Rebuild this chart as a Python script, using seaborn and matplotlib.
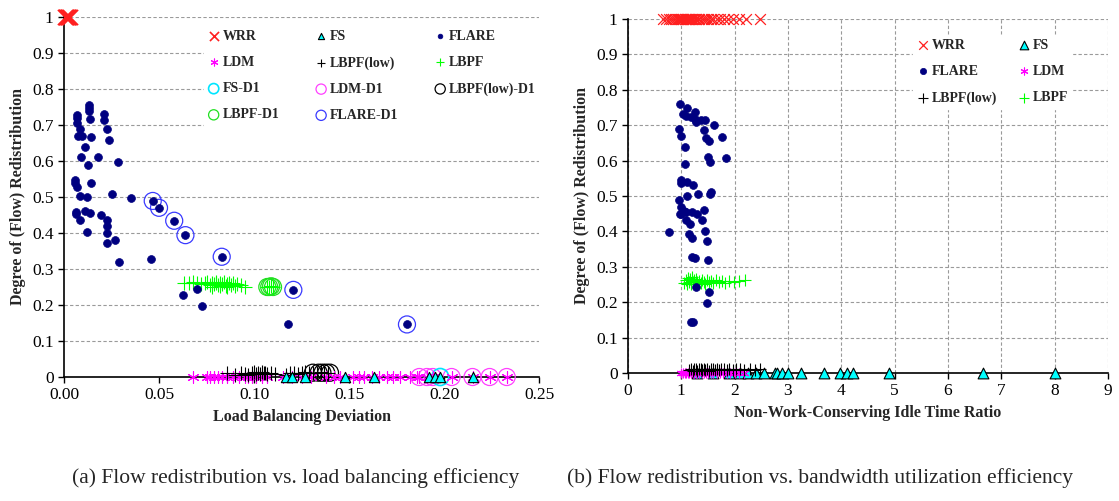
import numpy as np
import pandas as pd
import matplotlib
matplotlib.use('Agg')
import matplotlib.pyplot as plt
import seaborn as sns
from matplotlib.ticker import FuncFormatter

# ---------------- (a) load balancing deviation ----------------
a_wrr_x = [0.0005, 0.001, 0.0015, 0.002, 0.0025, 0.003, 0.0012, 0.0022]
a_wrr_y = [1, 1, 1, 1, 1, 1, 1, 1]

a_flare_x = [0.013, 0.013, 0.013, 0.007, 0.007, 0.007, 0.0137, 0.021, 0.021, 0.0225,
             0.0084, 0.0075, 0.0097, 0.0143, 0.0236, 0.0108, 0.009, 0.0179, 0.0128, 0.0284,
             0.0056, 0.0059, 0.0066, 0.0142, 0.0084, 0.012, 0.0253, 0.035, 0.0063, 0.0065,
             0.0108, 0.0135, 0.0084, 0.012, 0.0195, 0.0225, 0.0225, 0.0225, 0.0226, 0.0268,
             0.0289, 0.0456, 0.0626, 0.070, 0.0726, 0.118,
             0.0467, 0.050, 0.058, 0.0639, 0.083, 0.1207, 0.1805]
a_flare_y = [0.756, 0.747, 0.740, 0.728, 0.720, 0.705, 0.716, 0.730, 0.713, 0.688,
             0.690, 0.670, 0.670, 0.666, 0.657, 0.638, 0.610, 0.611, 0.590, 0.597,
             0.547, 0.538, 0.527, 0.540, 0.502, 0.500, 0.508, 0.497, 0.459, 0.452,
             0.462, 0.455, 0.435, 0.403, 0.449, 0.436, 0.419, 0.400, 0.373, 0.380,
             0.319, 0.329, 0.229, 0.245, 0.197, 0.148,
             0.489, 0.470, 0.434, 0.394, 0.334, 0.242, 0.146]
a_flare_d1_x = [0.0467, 0.050, 0.058, 0.0639, 0.083, 0.1207, 0.1805]
a_flare_d1_y = [0.489, 0.470, 0.434, 0.394, 0.334, 0.242, 0.146]

a_lbpf_x = [0.063, 0.066, 0.068, 0.070, 0.072, 0.074, 0.075, 0.077, 0.078, 0.079,
            0.080, 0.081, 0.082, 0.083, 0.084, 0.085, 0.086, 0.087, 0.088, 0.089,
            0.090, 0.091, 0.093, 0.095, 0.078, 0.082, 0.086, 0.080,
            0.107, 0.108, 0.109, 0.110]
a_lbpf_y = [0.262, 0.262, 0.263, 0.262, 0.258, 0.260, 0.264, 0.256, 0.262, 0.258,
            0.265, 0.255, 0.261, 0.257, 0.263, 0.254, 0.259, 0.262, 0.256, 0.260,
            0.252, 0.258, 0.255, 0.251, 0.250, 0.253, 0.251, 0.262,
            0.250, 0.250, 0.252, 0.250]
a_lbpf_d1_x = [0.107, 0.108, 0.109, 0.110]
a_lbpf_d1_y = [0.250, 0.250, 0.252, 0.250]

a_ldm_x = [0.068, 0.075, 0.077, 0.079, 0.081, 0.083, 0.086, 0.089, 0.092, 0.095,
           0.097, 0.099, 0.101, 0.104, 0.107, 0.115, 0.120, 0.125, 0.130, 0.138,
           0.142, 0.145, 0.152, 0.155, 0.158, 0.162, 0.166, 0.170, 0.173, 0.177,
           0.182, 0.186, 0.187, 0.191, 0.194, 0.204, 0.215, 0.224, 0.233]
a_ldm_y = [0, 0, 0, 0, 0, 0, 0, 0, 0, 0,
           0, 0, 0, 0, 0, 0, 0, 0, 0, 0,
           0, 0, 0, 0, 0, 0, 0, 0, 0, 0,
           0, 0, 0, 0, 0, 0, 0, 0, 0]
a_ldm_d1_x = [0.187, 0.191, 0.194, 0.204, 0.215, 0.224, 0.233]
a_ldm_d1_y = [0, 0, 0, 0, 0, 0, 0]

a_low_x = [0.086, 0.090, 0.093, 0.095, 0.097, 0.099, 0.100, 0.101, 0.102, 0.103,
           0.104, 0.105, 0.106, 0.107, 0.109, 0.111, 0.117, 0.119, 0.121, 0.123,
           0.125, 0.127, 0.129, 0.131, 0.133, 0.135, 0.137, 0.139]
a_low_y = [0.010, 0.006, 0.012, 0.008, 0.005, 0.011, 0.013, 0.009, 0.012, 0.007,
           0.013, 0.010, 0.012, 0.008, 0.011, 0.009, 0.006, 0.010, 0.012, 0.008,
           0.011, 0.013, 0.010, 0.012, 0.011, 0.013, 0.012, 0.011]
a_low_d1_x = [0.131, 0.134, 0.136, 0.138, 0.140]
a_low_d1_y = [0.012, 0.012, 0.012, 0.012, 0.012]

a_fs_x = [0.117, 0.120, 0.127, 0.148, 0.163, 0.192, 0.195, 0.198, 0.215]
a_fs_y = [0, 0, 0, 0, 0, 0, 0, 0, 0]
a_fs_d1_x = [0.198]
a_fs_d1_y = [0]

# ---------------- (b) idle time ratio ----------------
b_wrr_x = [0.66, 0.72, 0.76, 0.80, 0.84, 0.88, 0.91, 0.94, 0.97, 1.00,
           1.02, 1.04, 1.06, 1.08, 1.10, 1.12, 1.14, 1.16, 1.18, 1.20,
           1.22, 1.25, 1.28, 1.31, 1.34, 1.38, 1.42, 1.46, 1.50, 1.55,
           1.60, 1.66, 1.72, 1.80, 1.88, 1.97, 2.08, 2.22, 2.47]
b_wrr_y = [1, 1, 1, 1, 1, 1, 1, 1, 1, 1,
           1, 1, 1, 1, 1, 1, 1, 1, 1, 1,
           1, 1, 1, 1, 1, 1, 1, 1, 1, 1,
           1, 1, 1, 1, 1, 1, 1, 1, 1]

b_flare_x = [0.975, 1.106, 1.26, 1.025, 1.087, 1.175, 1.26, 1.28, 1.37, 1.44,
             0.96, 1.42, 1.62, 1.00, 1.47, 1.52, 1.77, 1.06, 1.50, 1.54,
             1.83, 1.06, 1.00, 1.00, 1.10, 1.21, 1.31, 1.54, 1.56, 1.11,
             0.96, 1.00, 0.98, 1.09, 1.20, 1.30, 1.42, 1.05, 0.99, 1.09,
             1.39, 1.17, 0.76, 1.15, 1.20, 1.45, 1.48, 1.20, 1.25, 1.50,
             1.28, 1.51, 1.48, 1.19, 1.21]
b_flare_y = [0.759, 0.749, 0.738, 0.731, 0.726, 0.722, 0.717, 0.710, 0.716, 0.715,
             0.690, 0.687, 0.700, 0.670, 0.665, 0.655, 0.667, 0.638, 0.610, 0.596,
             0.607, 0.589, 0.545, 0.538, 0.540, 0.530, 0.507, 0.507, 0.511, 0.500,
             0.490, 0.470, 0.450, 0.456, 0.456, 0.450, 0.460, 0.458, 0.449, 0.432,
             0.432, 0.420, 0.397, 0.392, 0.380, 0.402, 0.372, 0.329, 0.326, 0.320,
             0.244, 0.228, 0.198, 0.145, 0.145]

b_lbpf_x = [1.05, 1.08, 1.10, 1.12, 1.14, 1.16, 1.18, 1.20, 1.22, 1.24,
            1.26, 1.28, 1.30, 1.33, 1.36, 1.39, 1.42, 1.45, 1.48, 1.52,
            1.56, 1.60, 1.65, 1.70, 1.76, 1.82, 1.90, 1.98, 2.08, 2.20]
b_lbpf_y = [0.255, 0.262, 0.250, 0.268, 0.257, 0.265, 0.252, 0.270, 0.258, 0.263,
            0.250, 0.266, 0.256, 0.261, 0.253, 0.264, 0.258, 0.251, 0.262, 0.256,
            0.260, 0.254, 0.262, 0.257, 0.260, 0.255, 0.261, 0.258, 0.260, 0.262]

b_low_x = [1.15, 1.18, 1.21, 1.24, 1.27, 1.30, 1.33, 1.36, 1.39, 1.42,
           1.45, 1.48, 1.51, 1.55, 1.59, 1.63, 1.67, 1.71, 1.75, 1.80,
           1.85, 1.90, 1.96, 2.02, 2.10, 2.18, 2.28, 2.38, 2.48]
b_low_y = [0.008, 0.011, 0.006, 0.010, 0.012, 0.007, 0.010, 0.011, 0.008, 0.012,
           0.009, 0.011, 0.007, 0.010, 0.012, 0.008, 0.011, 0.009, 0.012, 0.010,
           0.008, 0.011, 0.009, 0.012, 0.010, 0.008, 0.011, 0.009, 0.010]

b_ldm_x = [1.00, 1.03, 1.06, 1.09, 1.12, 1.15, 1.18, 1.21, 1.24, 1.27,
           1.30, 1.34, 1.38, 1.42, 1.46, 1.50, 1.55, 1.60, 1.66, 1.72,
           1.78, 1.85, 1.92, 2.00, 2.08, 2.18]
b_ldm_y = [0, 0, 0, 0, 0, 0, 0, 0, 0, 0,
           0, 0, 0, 0, 0, 0, 0, 0, 0, 0,
           0, 0, 0, 0, 0, 0]

b_fs_x = [1.3, 1.6, 1.9, 2.1, 2.25, 2.4, 2.55, 2.75, 2.8, 2.88,
          3.0, 3.25, 3.68, 3.98, 4.1, 4.22, 4.9, 6.65, 8.0]
b_fs_y = [0, 0, 0, 0, 0, 0, 0, 0, 0, 0,
          0, 0, 0, 0, 0, 0, 0, 0, 0]

ASTER = (6, 2, 0)
STYLE = {
    'WRR': dict(marker='x', color='#FF2020'),
    'FS': dict(marker='^', color='#00FFFF', ec='black'),
    'FLARE': dict(marker='o', color='#000080', ec='#000080'),
    'LDM': dict(marker=ASTER, color='#FF00FF'),
    'LBPF(low)': dict(marker='+', color='black'),
    'LBPF': dict(marker='+', color='#00FF00'),
    'FS-D1': dict(marker='o', color='#00E5FF', hollow=True),
    'LDM-D1': dict(marker='o', color='#FF40FF', hollow=True),
    'LBPF(low)-D1': dict(marker='o', color='black', hollow=True),
    'LBPF-D1': dict(marker='o', color='#20E020', hollow=True),
    'FLARE-D1': dict(marker='o', color='#3A3AFF', hollow=True),
}


def draw(ax, name, x, y, s, lw=1.0, z=3):
    st = STYLE[name]
    df = pd.DataFrame({'x': x, 'y': y})
    kw = dict(marker=st['marker'], s=s, color=st['color'], linewidth=lw,
              label=name, clip_on=False, zorder=z)
    if st.get('hollow'):
        kw['facecolor'] = 'none'
        kw['edgecolor'] = st['color']
    elif 'ec' in st:
        kw['edgecolor'] = st['ec']
    sns.scatterplot(data=df, x='x', y='y', ax=ax, **kw)


def style_axes(ax, xgrid):
    ax.set_ylim(0, 1)
    ax.set_yticks(np.arange(0, 1.01, 0.1))
    ax.yaxis.set_major_formatter(FuncFormatter(lambda v, p: f'{v:g}'))
    ax.yaxis.grid(True, linestyle=(0, (3, 2)), color='#9a9a9a', linewidth=0.8)
    if xgrid:
        ax.xaxis.grid(True, linestyle=(0, (3, 2)), color='#9a9a9a', linewidth=0.8)
    else:
        ax.xaxis.grid(False)
    ax.set_axisbelow(True)
    for sp in ['top', 'right']:
        ax.spines[sp].set_visible(False)
    for sp in ['left', 'bottom']:
        ax.spines[sp].set_color('black')
        ax.spines[sp].set_linewidth(1.2)
    ax.tick_params(direction='out', length=4, width=1, colors='black', labelsize=12.5)
    ax.set_ylabel('Degree of (Flow) Redistribution', fontweight='bold', fontsize=11.5)


sns.set_style('ticks')
plt.rcParams['font.family'] = ['Liberation Serif', 'DejaVu Serif']

fig = plt.figure(figsize=(11.19, 5.01), dpi=100)

# ---- panel (a)
ax1 = fig.add_axes([0.0572, 0.2475, 0.4245, 0.7186])
draw(ax1, 'FLARE-D1', a_flare_d1_x, a_flare_d1_y, 150, lw=0.9)
draw(ax1, 'LBPF-D1', a_lbpf_d1_x, a_lbpf_d1_y, 150, lw=0.9)
draw(ax1, 'LDM-D1', a_ldm_d1_x, a_ldm_d1_y, 150, lw=0.9)
draw(ax1, 'LBPF(low)-D1', a_low_d1_x, a_low_d1_y, 150, lw=0.9)
draw(ax1, 'FS-D1', a_fs_d1_x, a_fs_d1_y, 150, lw=1.2)
draw(ax1, 'LBPF', a_lbpf_x, a_lbpf_y, 110, lw=0.8)
draw(ax1, 'LDM', a_ldm_x, a_ldm_y, 70, lw=0.8)
draw(ax1, 'LBPF(low)', a_low_x, a_low_y, 90, lw=0.8)
draw(ax1, 'FS', a_fs_x, a_fs_y, 55, lw=0.8, z=4)
draw(ax1, 'FLARE', a_flare_x, a_flare_y, 32, lw=0.5, z=4)
draw(ax1, 'WRR', a_wrr_x, a_wrr_y, 120, lw=1.2, z=5)
ax1.set_xlim(0, 0.25)
ax1.set_xticks(np.arange(0, 0.251, 0.05))
ax1.xaxis.set_major_formatter(FuncFormatter(lambda v, p: f'{v:.2f}'))
style_axes(ax1, False)
ax1.set_xlabel('Load Balancing Deviation', fontweight='bold', fontsize=11.5)

h, l = ax1.get_legend_handles_labels()
hl = dict(zip(l, h))
order_a = ['WRR', 'LDM', 'FS-D1', 'LBPF-D1', 'FS', 'LBPF(low)', 'LDM-D1', 'FLARE-D1',
           'FLARE', 'LBPF', 'LBPF(low)-D1']
leg = ax1.legend([hl[k] for k in order_a], order_a, ncol=3, loc='upper left',
                 bbox_to_anchor=(0.28, 0.995), frameon=True, fancybox=False,
                 facecolor='white', edgecolor='white', framealpha=1,
                 prop=dict(weight='bold', size=10), markerscale=0.6,
                 handlelength=0.8, handletextpad=0.25, columnspacing=2.6,
                 labelspacing=0.95, borderpad=0.3)
leg.set_zorder(6)

# ---- panel (b)
ax2 = fig.add_axes([0.5612, 0.2555, 0.4290, 0.7066])
draw(ax2, 'LBPF', b_lbpf_x, b_lbpf_y, 80, lw=0.8)
draw(ax2, 'FS', b_fs_x, b_fs_y, 60, lw=0.8)
draw(ax2, 'LDM', b_ldm_x, b_ldm_y, 40, lw=0.8)
draw(ax2, 'LBPF(low)', b_low_x, b_low_y, 70, lw=0.8)
draw(ax2, 'FLARE', b_flare_x, b_flare_y, 32, lw=0.5, z=4)
draw(ax2, 'WRR', b_wrr_x, b_wrr_y, 60, lw=0.9, z=5)
ax2.set_xlim(0, 9)
ax2.set_xticks(np.arange(0, 10, 1))
style_axes(ax2, True)
ax2.set_xlabel('Non-Work-Conserving Idle Time Ratio', fontweight='bold', fontsize=11.5)

h, l = ax2.get_legend_handles_labels()
hl = dict(zip(l, h))
order_b = ['WRR', 'FLARE', 'LBPF(low)', 'FS', 'LDM', 'LBPF']
leg2 = ax2.legend([hl[k] for k in order_b], order_b, ncol=2, loc='upper left',
                  bbox_to_anchor=(0.58, 0.975), frameon=True, fancybox=False,
                  facecolor='white', edgecolor='white', framealpha=1,
                  prop=dict(weight='bold', size=10), markerscale=0.8,
                  handlelength=0.8, handletextpad=0.25, columnspacing=1.5,
                  labelspacing=0.95, borderpad=0.3)
leg2.set_zorder(6)

fig.text(0.064, 0.035, '(a) Flow redistribution vs. load balancing efficiency',
         fontsize=15.5, ha='left', va='baseline')
fig.text(0.507, 0.035, '(b) Flow redistribution vs. bandwidth utilization efficiency',
         fontsize=15.5, ha='left', va='baseline')

fig.savefig('out.png', dpi=100)
